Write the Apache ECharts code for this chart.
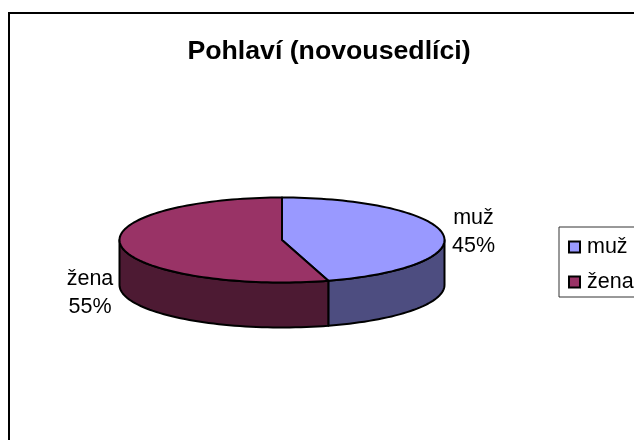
<!DOCTYPE html>
<html><head><meta charset="utf-8">
<style>html,body{margin:0;padding:0;background:#fff}#c{width:634px;height:440px}</style>
<script src="https://cdn.jsdelivr.net/npm/echarts@6/dist/echarts.min.js"></script></head>
<body><div id="c"></div>
<script>
const categories = ['muž', 'žena'];
const values = [45.4, 54.6];
const topColors = ['#9999FF', '#993366'];
const wallColors = ['#4D4D80', '#4D1A33'];
const titleText = 'Pohlaví (novousedlíci)';

const chart = echarts.init(document.getElementById('c'), null, {renderer: 'canvas'});
const CX = 282, CY = 240, RX = 162.5, RY = 42.5, DEPTH = 45;
const total = values.reduce((a, b) => a + b, 0);
const pt = (deg, dy) => {
  const r = deg * Math.PI / 180;
  return [CX + RX * Math.sin(r), CY - RY * Math.cos(r) + (dy || 0)];
};
const arc = (a, b, dy) => {
  const out = [], n = Math.max(2, Math.ceil(Math.abs(b - a) / 2));
  for (let i = 0; i <= n; i++) out.push(pt(a + (b - a) * i / n, dy));
  return out;
};
const labelPos = [{x: 473.5, y: 232}, {x: 90, y: 293.5}];

function sliceSeries(i) {
  const start = values.slice(0, i).reduce((a, b) => a + b, 0) / total * 360;
  const end = start + values[i] / total * 360;
  return {
    type: 'custom',
    name: categories[i],
    coordinateSystem: 'none',
    silent: true,
    itemStyle: {color: topColors[i], borderColor: '#000', borderWidth: 1.5},
    data: [[values[i]]],
    renderItem() {
      const children = [];
      const wa = Math.max(start, 90), wb = Math.min(end, 270);
      const line = {stroke: '#000', lineWidth: 2, lineJoin: 'round'};
      if (wb > wa) {
        children.push({type: 'polygon',
          shape: {points: arc(wa, wb, 0).concat(arc(wb, wa, DEPTH))},
          style: Object.assign({fill: wallColors[i]}, line)});
      }
      children.push({type: 'polygon',
        shape: {points: [[CX, CY]].concat(arc(start, end, 0))},
        style: Object.assign({fill: topColors[i]}, line)});
      children.push({type: 'text', style: {
        text: categories[i] + '\n' + Math.round(values[i] / total * 100) + '%',
        x: labelPos[i].x, y: labelPos[i].y, align: 'center', verticalAlign: 'middle',
        font: '21.5px "Liberation Sans", Arial, sans-serif', lineHeight: 28, fill: '#000'}});
      return {type: 'group', children};
    }
  };
}

chart.setOption({
  animation: false,
  backgroundColor: '#fff',
  title: {text: titleText, left: 324, top: 33, textAlign: 'center',
    textStyle: {fontFamily: '"Liberation Sans", Arial, sans-serif', fontSize: 26.7, fontWeight: 'bold', color: '#000'}},
  legend: {
    data: categories.map(n => ({name: n, icon: 'rect'})),
    orient: 'vertical', left: 559, top: 227,
    padding: [9, 6, 4, 9], itemGap: 13, itemWidth: 11, itemHeight: 11,
    borderColor: '#333', borderWidth: 1, backgroundColor: '#fff',
    textStyle: {fontFamily: '"Liberation Sans", Arial, sans-serif', fontSize: 21.5, color: '#000', padding: [0, 0, 0, 2]},
    selectedMode: false
  },
  graphic: [
    {type: 'polyline', silent: true, shape: {points: [[9, 440], [9, 13], [634, 13]]},
     style: {stroke: '#000', lineWidth: 2, fill: null}}
  ],
  series: categories.map((_, i) => sliceSeries(i))
});
</script></body></html>
